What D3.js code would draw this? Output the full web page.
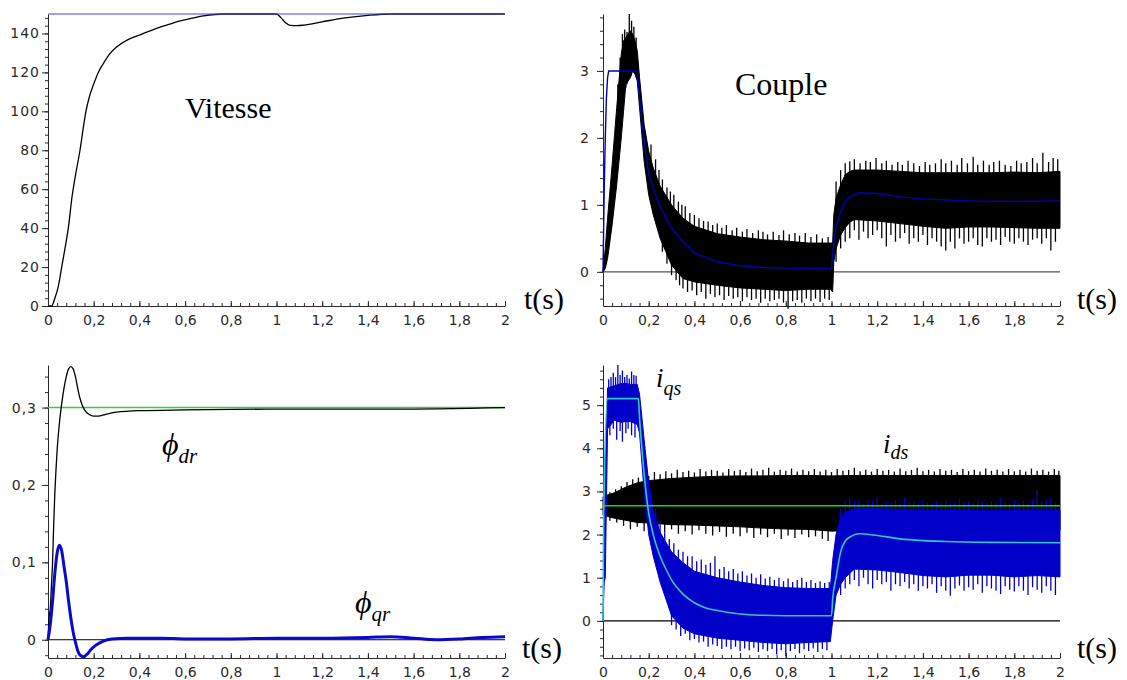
<!DOCTYPE html>
<html>
<head>
<meta charset="utf-8">
<script src="https://cdn.jsdelivr.net/npm/d3@7"></script>
<style>
  body { margin: 0; background: #fff; }
  svg { display: block; }
</style>
</head>
<body>
<div id="chart"></div>
<script>
// ---- shared time axis ----
const xTicks = [0, 0.2, 0.4, 0.6, 0.8, 1, 1.2, 1.4, 1.6, 1.8, 2];
const xTickLabels = ["0", "0,2", "0,4", "0,6", "0,8", "1", "1,2", "1,4", "1,6", "1,8", "2"];

// ---- Vitesse ----
const speedTicks = [0, 20, 40, 60, 80, 100, 120, 140];
const speedTickLabels = ["0", "20", "40", "60", "80", "100", "120", "140"];
const speedRefT = [0, 2];
const speedRef = [150, 150];
const speedT = [0, 0.016, 0.03, 0.045, 0.06, 0.075, 0.09, 0.105, 0.12, 0.14,
                0.155, 0.166, 0.18, 0.2, 0.22, 0.25, 0.27, 0.3, 0.35, 0.4,
                0.45, 0.5, 0.55, 0.6, 0.68, 0.77, 1.0, 1.02, 1.04, 1.06,
                1.09, 1.12, 1.2, 1.3, 1.4, 1.5, 2.0];
const speed = [0, 0, 4, 10, 20, 30, 41, 56, 67, 80,
               92, 100, 107, 114, 120, 126, 129.5, 133, 136.8, 139.2,
               141.5, 143.6, 145.5, 147, 149, 150, 150, 148, 145.5, 144.2,
               144, 144.3, 146, 148, 149.3, 150, 150];

// ---- Couple ----
const torqueTicks = [0, 1, 2, 3];
const torqueTickLabels = ["0", "1", "2", "3"];
const torqueRefT = [0, 0.003, 0.006, 0.01, 0.015, 0.02, 0.025, 0.15, 0.16, 0.17,
                    0.18, 0.19, 0.2, 0.22, 0.25, 0.3, 0.35, 0.4, 0.5, 0.6,
                    0.7, 0.8, 1.0, 1.005, 1.02, 1.04, 1.06, 1.08, 1.12, 1.2,
                    1.3, 1.4, 1.6, 1.8, 2.0];
const torqueRef = [0, 0.7, 1.35, 2.0, 2.6, 2.9, 3.0, 3.0, 2.6, 2.25,
                   1.97, 1.7, 1.47, 1.25, 0.97, 0.65, 0.45, 0.28, 0.15, 0.09,
                   0.065, 0.055, 0.05, 0.3, 0.65, 0.9, 1.05, 1.12, 1.18, 1.17,
                   1.12, 1.09, 1.06, 1.05, 1.06];
const torqueBandT = [0, 0.01, 0.02, 0.04, 0.06, 0.08, 0.09, 0.1, 0.11, 0.12,
                     0.13, 0.14, 0.15, 0.16, 0.18, 0.2, 0.22, 0.25, 0.3, 0.35,
                     0.4, 0.5, 0.6, 0.7, 0.8, 0.9, 0.995, 1.005, 1.01, 1.02,
                     1.04, 1.06, 1.08, 1.1, 1.2, 1.3, 1.4, 1.5, 1.6, 1.7,
                     1.8, 1.9, 2.0];
const torqueHi = [0, 0.35, 0.8, 1.6, 2.45, 3.25, 3.45, 3.5, 3.55, 3.6,
                  3.55, 3.45, 3.3, 2.9, 2.2, 1.8, 1.55, 1.28, 1.0, 0.8,
                  0.68, 0.57, 0.52, 0.48, 0.46, 0.43, 0.43, 0.43, 0.85, 1.1,
                  1.3, 1.45, 1.5, 1.52, 1.52, 1.5, 1.48, 1.48, 1.48, 1.48,
                  1.49, 1.48, 1.5];
const torqueLo = [0, 0.05, 0.2, 0.7, 1.3, 2.0, 2.4, 2.8, 2.85, 2.9,
                  3.0, 2.95, 2.85, 2.45, 1.65, 1.15, 0.85, 0.5, 0.1, -0.1,
                  -0.15, -0.2, -0.24, -0.26, -0.28, -0.26, -0.26, -0.3, 0.15, 0.35,
                  0.55, 0.66, 0.74, 0.78, 0.76, 0.72, 0.68, 0.65, 0.67, 0.67,
                  0.66, 0.65, 0.65];
const torqueSpikesUp = [
  [0.065, 2.8], [0.075, 3.2], [0.085, 3.55], [0.095, 3.62], [0.105, 3.58], [0.115, 3.85], [0.125, 3.75], [0.135, 3.66], [0.145, 3.5],
  [0.21, 1.9], [0.23, 1.68], [0.245, 1.52], [0.26, 1.38], [0.28, 1.26], [0.295, 1.2], [0.31, 1.15],
  [0.33, 1.05], [0.345, 1.0], [0.36, 0.98], [0.38, 0.88], [0.4, 0.85], [0.42, 0.8], [0.44, 0.76],
  [0.46, 0.75], [0.48, 0.7], [0.5, 0.72], [0.52, 0.66], [0.54, 0.7], [0.565, 0.62], [0.585, 0.66],
  [0.61, 0.6], [0.63, 0.64], [0.655, 0.58], [0.68, 0.62], [0.7, 0.6], [0.72, 0.56], [0.745, 0.6],
  [0.77, 0.55], [0.79, 0.62], [0.815, 0.56], [0.84, 0.58], [0.86, 0.54], [0.885, 0.58], [0.91, 0.52],
  [0.935, 0.56], [0.96, 0.5], [0.985, 0.52],
  [1.02, 1.35], [1.04, 1.52], [1.06, 1.62], [1.08, 1.65], [1.1, 1.68], [1.125, 1.62], [1.15, 1.66],
  [1.17, 1.64], [1.195, 1.7], [1.22, 1.62], [1.24, 1.66], [1.265, 1.6], [1.29, 1.64], [1.31, 1.6],
  [1.335, 1.66], [1.36, 1.62], [1.385, 1.58], [1.41, 1.64], [1.43, 1.6], [1.455, 1.62], [1.48, 1.68],
  [1.5, 1.62], [1.525, 1.66], [1.55, 1.6], [1.57, 1.7], [1.595, 1.62], [1.62, 1.72], [1.64, 1.6],
  [1.665, 1.66], [1.69, 1.6], [1.71, 1.64], [1.735, 1.66], [1.76, 1.6], [1.785, 1.58], [1.81, 1.66],
  [1.83, 1.62], [1.855, 1.64], [1.88, 1.7], [1.9, 1.62], [1.925, 1.78], [1.95, 1.64], [1.97, 1.7], [1.99, 1.68]];
const torqueSpikesDn = [
  [0.1, 2.75], [0.105, 2.8],
  [0.26, 0.3], [0.28, 0.12], [0.3, -0.05], [0.32, -0.12], [0.335, -0.2], [0.35, -0.25], [0.37, -0.3],
  [0.39, -0.28], [0.41, -0.35], [0.43, -0.3], [0.45, -0.4], [0.47, -0.33], [0.49, -0.38], [0.51, -0.35],
  [0.53, -0.42], [0.55, -0.36], [0.57, -0.4], [0.59, -0.38], [0.61, -0.44], [0.63, -0.38], [0.65, -0.42],
  [0.67, -0.4], [0.69, -0.46], [0.71, -0.4], [0.73, -0.44], [0.75, -0.42], [0.77, -0.4], [0.79, -0.46],
  [0.81, -0.55], [0.83, -0.44], [0.85, -0.42], [0.87, -0.46], [0.89, -0.4], [0.91, -0.44], [0.93, -0.4],
  [0.95, -0.45], [0.97, -0.4], [0.99, -0.42],
  [1.02, 0.15], [1.04, 0.35], [1.06, 0.45], [1.08, 0.5], [1.1, 0.62], [1.12, 0.48], [1.14, 0.6],
  [1.16, 0.5], [1.18, 0.55], [1.2, 0.62], [1.22, 0.5], [1.24, 0.38], [1.26, 0.55], [1.28, 0.45],
  [1.3, 0.5], [1.32, 0.58], [1.34, 0.42], [1.36, 0.5], [1.38, 0.45], [1.4, 0.55], [1.42, 0.4],
  [1.44, 0.5], [1.46, 0.45], [1.48, 0.38], [1.5, 0.32], [1.52, 0.45], [1.54, 0.35], [1.56, 0.5],
  [1.58, 0.42], [1.6, 0.45], [1.62, 0.5], [1.64, 0.4], [1.66, 0.38], [1.68, 0.5], [1.7, 0.45],
  [1.72, 0.48], [1.74, 0.4], [1.76, 0.52], [1.78, 0.45], [1.8, 0.42], [1.82, 0.5], [1.84, 0.45],
  [1.86, 0.4], [1.88, 0.48], [1.9, 0.5], [1.92, 0.42], [1.94, 0.5], [1.96, 0.32], [1.98, 0.45]];

// ---- Flux ----
const fluxTicks = [0, 0.1, 0.2, 0.3];
const fluxTickLabels = ["0", "0,1", "0,2", "0,3"];
const phiRefT = [0, 2];
const phiRef = [0.3, 0.3];
const phiDrT = [0, 0.005, 0.01, 0.015, 0.02, 0.025, 0.03, 0.035, 0.04, 0.05,
                0.06, 0.07, 0.08, 0.09, 0.1, 0.11, 0.12, 0.13, 0.14, 0.15,
                0.16, 0.18, 0.2, 0.22, 0.25, 0.3, 0.4, 0.6, 1.0, 1.5, 2.0];
const phiDr = [0, 0.03, 0.04, 0.07, 0.1, 0.15, 0.19, 0.22, 0.245, 0.28,
               0.305, 0.325, 0.34, 0.35, 0.353, 0.35, 0.34, 0.325, 0.312, 0.303,
               0.297, 0.291, 0.289, 0.289, 0.291, 0.294, 0.296, 0.297, 0.298, 0.298, 0.3];
const phiQrT = [0, 0.01, 0.02, 0.03, 0.04, 0.05, 0.06, 0.07, 0.08, 0.09,
                0.1, 0.11, 0.12, 0.13, 0.14, 0.155, 0.17, 0.19, 0.21, 0.24,
                0.28, 0.35, 0.5, 0.6, 0.8, 1.0, 1.2, 1.4, 1.5, 1.6,
                1.7, 1.8, 1.9, 2.0];
const phiQr = [0, 0.02, 0.05, 0.086, 0.112, 0.122, 0.115, 0.095, 0.075, 0.05,
               0.028, 0.01, -0.003, -0.014, -0.02, -0.022, -0.019, -0.012, -0.007, -0.002,
               0.001, 0.002, 0.002, 0.001, 0.001, 0.002, 0.002, 0.003, 0.004, 0.002,
               0.0, 0.001, 0.003, 0.004];

// ---- Courants ----
const currentTicks = [0, 1, 2, 3, 4, 5];
const currentTickLabels = ["0", "1", "2", "3", "4", "5"];
const idsRefT = [0, 2];
const idsRef = [2.67, 2.67];
const idsBandT = [0, 0.02, 0.05, 0.1, 0.15, 0.2, 0.3, 0.4, 0.5, 0.6,
                  0.7, 0.8, 0.9, 1.0, 1.1, 1.2, 1.4, 1.6, 1.8, 2.0];
const idsHi = [2.88, 2.92, 2.97, 3.1, 3.2, 3.25, 3.3, 3.33, 3.35, 3.36,
               3.36, 3.37, 3.37, 3.36, 3.37, 3.37, 3.37, 3.37, 3.37, 3.37];
const idsLo = [2.45, 2.42, 2.38, 2.33, 2.28, 2.27, 2.23, 2.22, 2.2, 2.18,
               2.15, 2.13, 2.12, 2.08, 2.1, 2.1, 2.1, 2.1, 2.1, 2.1];
const idsSpikesUp = [
  [0.03, 2.98], [0.055, 3.05], [0.08, 3.12], [0.105, 3.22], [0.13, 3.28], [0.155, 3.32], [0.18, 3.38],
  [0.2, 3.36], [0.225, 3.45], [0.25, 3.4], [0.275, 3.47], [0.3, 3.42], [0.325, 3.5], [0.35, 3.45],
  [0.375, 3.48], [0.4, 3.44], [0.425, 3.52], [0.45, 3.46], [0.475, 3.5], [0.5, 3.48], [0.525, 3.44],
  [0.55, 3.52], [0.575, 3.47], [0.6, 3.5], [0.625, 3.45], [0.65, 3.53], [0.675, 3.47], [0.7, 3.5],
  [0.725, 3.55], [0.75, 3.46], [0.775, 3.5], [0.8, 3.48], [0.825, 3.53], [0.85, 3.46], [0.875, 3.5],
  [0.9, 3.47], [0.925, 3.52], [0.95, 3.46], [0.975, 3.5], [1.0, 3.45], [1.025, 3.52], [1.05, 3.48],
  [1.075, 3.5], [1.1, 3.55], [1.125, 3.47], [1.15, 3.5], [1.175, 3.46], [1.2, 3.52], [1.225, 3.48],
  [1.25, 3.5], [1.275, 3.46], [1.3, 3.53], [1.325, 3.47], [1.35, 3.5], [1.375, 3.55], [1.4, 3.47],
  [1.425, 3.5], [1.45, 3.46], [1.475, 3.52], [1.5, 3.48], [1.525, 3.5], [1.55, 3.45], [1.575, 3.52],
  [1.6, 3.47], [1.625, 3.5], [1.65, 3.46], [1.675, 3.53], [1.7, 3.48], [1.725, 3.5], [1.75, 3.46],
  [1.775, 3.52], [1.8, 3.47], [1.825, 3.5], [1.85, 3.46], [1.875, 3.53], [1.9, 3.48], [1.925, 3.5],
  [1.95, 3.46], [1.975, 3.52], [1.995, 3.48]];
const idsSpikesDn = [
  [0.03, 2.32], [0.06, 2.28], [0.09, 2.2], [0.12, 2.12], [0.15, 2.18], [0.18, 2.08], [0.21, 2.15],
  [0.24, 2.1], [0.27, 2.05], [0.3, 2.12], [0.33, 2.02], [0.36, 2.08], [0.39, 2.0], [0.42, 2.1],
  [0.45, 2.02], [0.48, 1.98], [0.51, 2.06], [0.54, 1.95], [0.57, 2.02], [0.6, 1.96], [0.63, 2.04],
  [0.66, 1.92], [0.69, 2.0], [0.72, 1.94], [0.75, 2.02], [0.78, 1.9], [0.81, 1.98], [0.84, 1.92],
  [0.87, 2.0], [0.9, 1.94], [0.93, 1.96], [0.96, 1.9], [0.985, 1.85]];

const iqsBandT = [0, 0.005, 0.01, 0.02, 0.05, 0.08, 0.1, 0.12, 0.15, 0.16,
                  0.18, 0.2, 0.22, 0.25, 0.3, 0.35, 0.4, 0.5, 0.6, 0.7,
                  0.8, 0.9, 0.995, 1.005, 1.02, 1.04, 1.06, 1.1, 1.2, 1.3,
                  1.4, 1.5, 1.6, 1.7, 1.8, 1.9, 2.0];
const iqsHi = [0, 1.5, 3.5, 5.4, 5.45, 5.5, 5.5, 5.48, 5.48, 5.25,
               4.2, 3.2, 2.55, 2.05, 1.6, 1.35, 1.15, 1.0, 0.9, 0.82,
               0.77, 0.75, 0.75, 1.4, 2.0, 2.4, 2.52, 2.6, 2.6, 2.58,
               2.57, 2.57, 2.57, 2.55, 2.57, 2.57, 2.57];
const iqsLo = [0, 0.9, 1.0, 4.45, 4.65, 4.6, 4.62, 4.62, 4.55, 4.35,
               3.0, 2.0, 1.5, 0.9, 0.12, -0.17, -0.3, -0.4, -0.45, -0.5,
               -0.53, -0.5, -0.48, 0.0, 0.6, 0.85, 1.0, 1.2, 1.18, 1.12,
               1.05, 1.02, 1.06, 1.06, 1.02, 1.05, 1.02];
const iqsSpikesUp = [
  [0.025, 5.6], [0.035, 5.65], [0.045, 5.75], [0.055, 5.65], [0.065, 5.93], [0.075, 5.7], [0.085, 5.8],
  [0.095, 5.65], [0.105, 5.7], [0.115, 5.62], [0.125, 5.78], [0.135, 5.7], [0.145, 5.68],
  [0.23, 2.6], [0.25, 2.3], [0.27, 2.05], [0.29, 1.9], [0.31, 1.8], [0.33, 1.65], [0.35, 1.6],
  [0.37, 1.5], [0.39, 1.5], [0.41, 1.38], [0.43, 1.42], [0.45, 1.3], [0.47, 1.35], [0.49, 1.5],
  [0.51, 1.2], [0.53, 1.25], [0.55, 1.15], [0.57, 1.2], [0.59, 1.1], [0.61, 1.15], [0.63, 1.05],
  [0.65, 1.1], [0.67, 1.0], [0.69, 1.08], [0.71, 0.98], [0.73, 1.02], [0.75, 0.95], [0.77, 1.0],
  [0.79, 0.92], [0.81, 0.98], [0.83, 0.9], [0.85, 0.95], [0.87, 1.0], [0.89, 0.9], [0.91, 0.95],
  [0.93, 0.88], [0.95, 0.92], [0.97, 0.88], [0.99, 0.9],
  [1.04, 2.6], [1.06, 2.75], [1.08, 2.85], [1.1, 2.75], [1.12, 2.8], [1.14, 2.72], [1.16, 2.8],
  [1.18, 2.75], [1.2, 2.85], [1.22, 2.72], [1.24, 2.78], [1.26, 2.74], [1.28, 2.8], [1.3, 2.72],
  [1.32, 2.85], [1.34, 2.75], [1.36, 2.78], [1.38, 2.72], [1.4, 2.8], [1.42, 2.75], [1.44, 2.72],
  [1.46, 2.78], [1.48, 2.74], [1.5, 2.8], [1.52, 2.72], [1.54, 2.76], [1.56, 2.82], [1.58, 2.74],
  [1.6, 2.78], [1.62, 2.72], [1.64, 2.8], [1.66, 2.75], [1.68, 2.72], [1.7, 2.78], [1.72, 2.74],
  [1.74, 2.85], [1.76, 2.75], [1.78, 2.72], [1.8, 2.8], [1.82, 2.74], [1.84, 2.78], [1.86, 2.72],
  [1.88, 2.8], [1.9, 3.05], [1.92, 2.75], [1.94, 2.8], [1.96, 2.85], [1.98, 2.74]];
const iqsSpikesDn = [
  [0.03, 4.3], [0.045, 4.45], [0.06, 4.2], [0.075, 4.4], [0.085, 4.15], [0.1, 4.35], [0.11, 4.45],
  [0.125, 4.3], [0.14, 4.25],
  [0.3, -0.1], [0.32, -0.2], [0.34, -0.35], [0.36, -0.3], [0.38, -0.45], [0.4, -0.42], [0.42, -0.5],
  [0.44, -0.48], [0.46, -0.6], [0.48, -0.55], [0.5, -0.58], [0.52, -0.65], [0.54, -0.6], [0.56, -0.66],
  [0.58, -0.6], [0.6, -0.7], [0.62, -0.64], [0.64, -0.68], [0.66, -0.62], [0.68, -0.72], [0.7, -0.66],
  [0.72, -0.7], [0.74, -0.65], [0.76, -0.78], [0.78, -0.68], [0.8, -0.82], [0.82, -0.7], [0.84, -0.65],
  [0.86, -0.75], [0.88, -0.66], [0.9, -0.7], [0.92, -0.64], [0.94, -0.72], [0.96, -0.65], [0.98, -0.68],
  [1.04, 0.6], [1.06, 0.75], [1.08, 0.85], [1.1, 0.95], [1.12, 0.8], [1.14, 1.0], [1.16, 0.85],
  [1.18, 0.75], [1.2, 0.95], [1.22, 0.85], [1.24, 0.9], [1.26, 0.7], [1.28, 0.85], [1.3, 0.8],
  [1.32, 0.9], [1.34, 0.75], [1.36, 0.85], [1.38, 0.7], [1.4, 0.8], [1.42, 0.75], [1.44, 0.85],
  [1.46, 0.65], [1.48, 0.8], [1.5, 0.7], [1.52, 0.58], [1.54, 0.75], [1.56, 0.82], [1.58, 0.7],
  [1.6, 0.78], [1.62, 0.72], [1.64, 0.85], [1.66, 0.65], [1.68, 0.8], [1.7, 0.75], [1.72, 0.7],
  [1.74, 0.62], [1.76, 0.8], [1.78, 0.72], [1.8, 0.68], [1.82, 0.8], [1.84, 0.7], [1.86, 0.6],
  [1.88, 0.78], [1.9, 0.72], [1.92, 0.65], [1.94, 0.8], [1.96, 0.7], [1.98, 0.6]];
const iqsRefT = [0, 0.003, 0.02, 0.155, 0.16, 0.17, 0.18, 0.19, 0.2, 0.22,
                 0.25, 0.28, 0.3, 0.35, 0.4, 0.45, 0.5, 0.6, 0.7, 0.8,
                 1.0, 1.005, 1.02, 1.04, 1.06, 1.09, 1.12, 1.2, 1.3, 1.4,
                 1.5, 1.7, 2.0];
const iqsRef = [0, 2.5, 5.15, 5.15, 4.7, 4.0, 3.4, 2.9, 2.5, 2.0,
                1.5, 1.15, 0.95, 0.62, 0.42, 0.3, 0.24, 0.16, 0.13, 0.12,
                0.12, 0.5, 1.0, 1.6, 1.85, 1.97, 2.02, 1.98, 1.9, 1.86,
                1.84, 1.82, 1.81];

// ---- frame ----
const WIDTH = 1127, HEIGHT = 680;
const svg = d3.select("#chart").append("svg")
    .attr("width", WIDTH).attr("height", HEIGHT);
svg.append("rect").attr("width", WIDTH).attr("height", HEIGHT).attr("fill", "#fff");

const AXIS_COLOR = "#2a2a2a";

function buildPanel(box) {
  const x = d3.scaleLinear().domain([0, 2]).range([box.left, box.right]);
  const y = d3.scaleLinear().domain(box.yDomain).range([box.bottom, box.top]);
  const g = svg.append("g");

  // minor ticks
  g.append("g").attr("transform", "translate(0," + box.bottom + ")")
    .call(d3.axisBottom(x).tickValues(d3.range(0, 2.001, 0.04)).tickSize(-3).tickFormat(""))
    .attr("color", AXIS_COLOR)
    .call(a => a.select(".domain").remove());
  g.append("g").attr("transform", "translate(" + box.left + ",0)")
    .call(d3.axisLeft(y).tickValues(d3.range(box.minorFrom, box.yDomain[1], box.minorStep)).tickSize(3).tickFormat(""))
    .attr("color", AXIS_COLOR)
    .call(a => a.select(".domain").remove());

  // main axes (font set after the call, axis() resets it)
  g.append("g").attr("transform", "translate(0," + box.bottom + ")")
    .call(d3.axisBottom(x).tickValues(xTicks).tickSizeInner(-5).tickSizeOuter(0)
      .tickPadding(9).tickFormat((d, i) => xTickLabels[i]))
    .attr("color", AXIS_COLOR)
    .attr("font-family", "DejaVu Sans").attr("font-size", 14);
  g.append("g").attr("transform", "translate(" + box.left + ",0)")
    .call(d3.axisLeft(y).tickValues(box.ticks).tickSizeInner(6).tickSizeOuter(0)
      .tickPadding(box.pad).tickFormat((d, i) => box.labels[i]))
    .attr("color", AXIS_COLOR)
    .attr("font-family", "DejaVu Sans").attr("font-size", 14)
    .selectAll("text").attr("letter-spacing", 1);

  return { g, x, y };
}

function drawLine(p, T, V, color, width, curve) {
  const rows = T.map((t, i) => ({ t, v: V[i] }));
  p.g.append("path").datum(rows)
    .attr("d", d3.line().x(d => p.x(d.t)).y(d => p.y(d.v)).curve(curve || d3.curveLinear))
    .attr("fill", "none").attr("stroke", color).attr("stroke-width", width);
}

// noisy signal: filled envelope + hair-like spikes going out of it
function drawBand(p, T, hi, lo, spikesUp, spikesDn, color) {
  const rows = T.map((t, i) => ({ t, hi: hi[i], lo: lo[i] }));
  p.g.append("path").datum(rows)
    .attr("d", d3.area().x(d => p.x(d.t)).y0(d => p.y(d.lo)).y1(d => p.y(d.hi)))
    .attr("fill", color).attr("stroke", color).attr("stroke-width", 1);
  const mid = t => { const i = d3.bisectCenter(T, t); return (hi[i] + lo[i]) / 2; };
  p.g.selectAll(null).data(spikesUp.concat(spikesDn)).join("line")
    .attr("x1", d => p.x(d[0])).attr("x2", d => p.x(d[0]))
    .attr("y1", d => p.y(d[1])).attr("y2", d => p.y(mid(d[0])))
    .attr("stroke", color).attr("stroke-width", 1.3);
}

function serifText(x, y, size, str) {
  svg.append("text").attr("x", x).attr("y", y)
    .attr("font-family", "Liberation Serif, Times New Roman, serif")
    .attr("font-size", size).attr("fill", "#000").text(str);
}

function subLabel(x, y, main, sub, mainSize, subSize, dy) {
  const t = svg.append("text").attr("x", x).attr("y", y)
    .attr("font-family", "Liberation Serif, Times New Roman, serif")
    .attr("font-style", "italic").attr("fill", "#000");
  t.append("tspan").attr("font-size", mainSize).text(main);
  t.append("tspan").attr("font-size", subSize).attr("dy", dy).text(sub);
}

// ---- panel 1 : Vitesse ----
const P1 = buildPanel({ left: 48, right: 505, top: 14, bottom: 306, yDomain: [0, 150],
  ticks: speedTicks, labels: speedTickLabels, minorFrom: 0, minorStep: 4, pad: 2 });
drawLine(P1, speedT, speed, "#000", 1.3, d3.curveMonotoneX);
drawLine(P1, speedRefT, speedRef, "#4646d6", 1.2);

// ---- panel 2 : Couple ----
const P2 = buildPanel({ left: 603, right: 1060, top: 14, bottom: 306, yDomain: [-0.51, 3.85],
  ticks: torqueTicks, labels: torqueTickLabels, minorFrom: -0.4, minorStep: 0.2, pad: 7 });
drawLine(P2, [0, 2], [0, 0], "#555", 1.2);
drawBand(P2, torqueBandT, torqueHi, torqueLo, torqueSpikesUp, torqueSpikesDn, "#000");
drawLine(P2, torqueRefT, torqueRef, "#0000b4", 1.4);

// ---- panel 3 : Flux ----
const P3 = buildPanel({ left: 48, right: 505, top: 365, bottom: 658, yDomain: [-0.0236, 0.355],
  ticks: fluxTicks, labels: fluxTickLabels, minorFrom: -0.02, minorStep: 0.02, pad: 5 });
drawLine(P3, [0, 2], [0, 0], "#000", 1);
drawLine(P3, phiRefT, phiRef, "#3ccc3c", 1.4);
drawLine(P3, phiDrT, phiDr, "#000", 1.3, d3.curveMonotoneX);
drawLine(P3, phiQrT, phiQr, "#0a0acc", 3, d3.curveMonotoneX);

// ---- panel 4 : Courants ----
const P4 = buildPanel({ left: 603, right: 1060, top: 365, bottom: 658, yDomain: [-0.86, 5.93],
  ticks: currentTicks, labels: currentTickLabels, minorFrom: -0.8, minorStep: 0.2, pad: 5 });
drawLine(P4, [0, 2], [0, 0], "#000", 1.2);
drawBand(P4, idsBandT, idsHi, idsLo, idsSpikesUp, idsSpikesDn, "#000");
drawBand(P4, iqsBandT, iqsHi, iqsLo, iqsSpikesUp, iqsSpikesDn, "#0000c8");
drawLine(P4, idsRefT, idsRef, "#10dd10", 1.5);
drawLine(P4, iqsRefT, iqsRef, "#30c8c8", 1.6, d3.curveMonotoneX);

// ---- labels ----
serifText(185, 118, 30, "Vitesse");
serifText(735, 95, 32, "Couple");
serifText(524, 309, 30, "t(s)");
serifText(1077, 309, 30, "t(s)");
serifText(522, 658, 30, "t(s)");
serifText(1077, 658, 30, "t(s)");
subLabel(162, 455, "\u03d5", "dr", 32, 21, 8);
subLabel(355, 613, "\u03d5", "qr", 32, 21, 8);
subLabel(656, 387, "i", "qs", 27, 20, 8);
subLabel(883, 453, "i", "ds", 27, 20, 6);
</script>
</body>
</html>
